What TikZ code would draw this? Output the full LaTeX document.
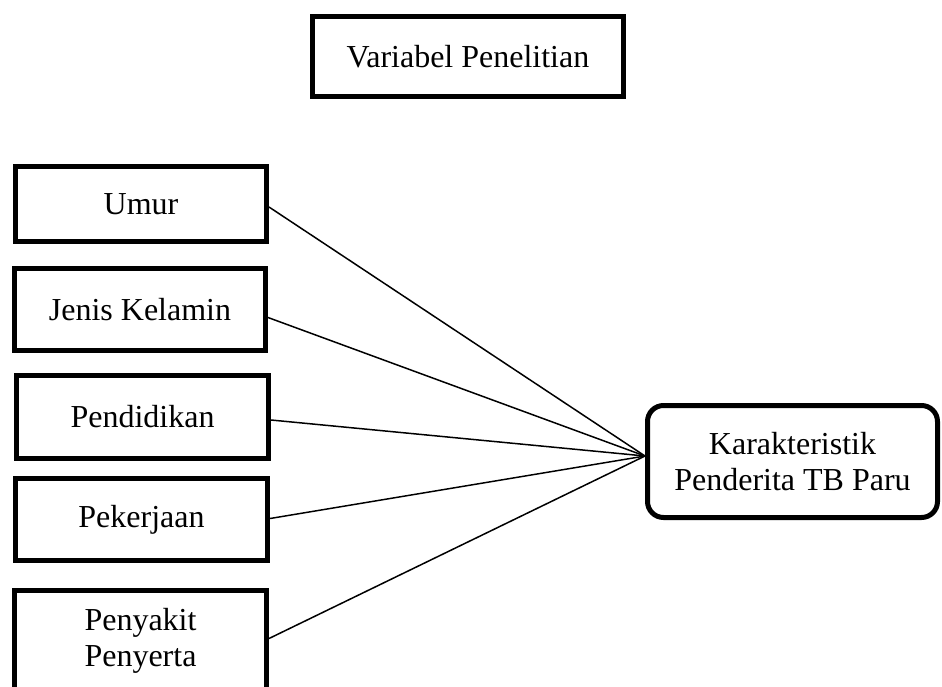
\documentclass[tikz,border=0pt]{standalone}
\usepackage{fontspec}
\setmainfont{Liberation Serif}
\usetikzlibrary{calc}
\tikzset{
  varbox/.style={draw=black, line width=5pt, rectangle, inner sep=0pt, align=center,
    font=\fontsize{32}{36}\selectfont},
  link/.style={draw=black, line width=1.5pt}
}
\begin{document}
\begin{tikzpicture}[x=1pt,y=-1pt]
\useasboundingbox (0,0) rectangle (942,686);
\node[varbox, minimum width=311pt, minimum height=80pt] (t) at (468,56.5) {Variabel Penelitian};
\node[varbox, minimum width=251pt, minimum height=75pt] (u) at (141,204) {Umur};
\node[varbox, minimum width=251pt, minimum height=82pt] (j) at (140,309.5) {Jenis Kelamin};
\node[varbox, minimum width=252pt, minimum height=83pt] (p) at (142.5,417) {Pendidikan};
\node[varbox, minimum width=252pt, minimum height=82pt] (w) at (141.5,519.5) {Pekerjaan};
\node[varbox, minimum width=252pt, minimum height=100pt] (s) at (140.5,640.5) {Penyakit\\Penyerta};
\node[varbox, rounded corners=16pt, minimum width=290pt, minimum height=112pt] (k) at (792.5,461.5) {Karakteristik\\Penderita TB Paru};
\coordinate (c) at (645,456);
\draw[link] ($(u.east)+(0,3)$) -- (c);
\draw[link] ($(j.east)+(0,8)$) -- (c);
\draw[link] ($(p.east)+(0,3)$) -- (c);
\draw[link] ($(w.east)+(0,-1)$) -- (c);
\draw[link] ($(s.east)+(0,-2)$) -- (c);
\end{tikzpicture}
\end{document}
